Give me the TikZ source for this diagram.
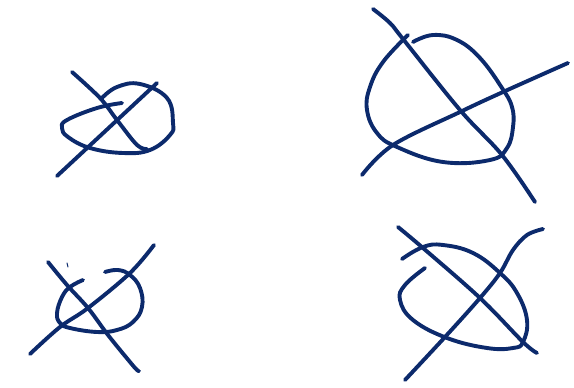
\documentclass[tikz,border=0pt]{standalone}
\usepackage{tikz}
\usepackage{xcolor}
\definecolor{tinta}{HTML}{0C2A6C}
\tikzset{trazo/.style={draw=tinta, line width=3.9pt, line cap=round, line join=round}}

\begin{document}
\begin{tikzpicture}[x=1pt, y=-1pt]
  \useasboundingbox (0,0) rectangle (574,388);

  % --- Figura arriba izquierda ---
  \draw[trazo] plot[smooth, tension=0.6] coordinates {(72,72) (100,98) (117,120) (137,145) (147,149)};
  \draw[trazo] (157,83) -- (57,176);
  \draw[trazo] plot[smooth, tension=0.7] coordinates {(122,103) (97,108) (67,120) (62,128) (68,137) (90,148) (123,153) (150,150) (170,135) (173,123) (167,98) (140,84) (117,87) (102,98)};

  % --- Figura arriba derecha ---
  \draw[trazo] plot[smooth, tension=0.6] coordinates {(373,9) (390,23) (403,39) (460,110) (502,155) (535,202)};
  \draw[trazo] plot[smooth, tension=0.6] coordinates {(568,63) (503,92) (460,112) (393,145) (362,175)};
  \draw[trazo] plot[smooth, tension=0.7] coordinates {(408,35) (383,62) (370,87) (367,110) (377,133) (397,147) (443,162) (490,160) (507,148) (513,127) (512,107) (502,88) (480,58) (457,40) (433,35) (413,42)};

  % --- Figura abajo izquierda ---
  \draw[trazo] plot[smooth, tension=0.6] coordinates {(48,262) (67,285) (88,308) (108,335) (130,362) (137,370) (139,371)};
  \draw[trazo] plot[smooth, tension=0.6] coordinates {(154,245) (130,273) (88,308) (60,327) (30,354)};
  \draw[tinta, line width=1pt, line cap=round] (67,263) -- (68,267);
  \draw[trazo] plot[smooth, tension=0.7] coordinates {(83,280) (70,287) (62,297) (57,313) (60,323) (70,328) (97,332) (117,330) (133,322) (142,307) (140,288) (130,275) (118,270) (105,272)};

  % --- Figura abajo derecha ---
  \draw[trazo] plot[smooth, tension=0.6] coordinates {(398,227) (423,248) (480,298) (523,342) (537,353)};
  \draw[trazo] plot[smooth, tension=0.6] coordinates {(543,229) (527,235) (513,250) (500,273) (480,298) (445,337) (405,380)};
  \draw[trazo] plot[smooth, tension=0.7] coordinates {(402,259) (423,247) (443,245) (473,253) (500,273) (517,293) (527,320) (523,342) (513,348) (487,348) (447,338) (413,320) (400,300) (405,285) (425,268)};

\end{tikzpicture}
\end{document}
